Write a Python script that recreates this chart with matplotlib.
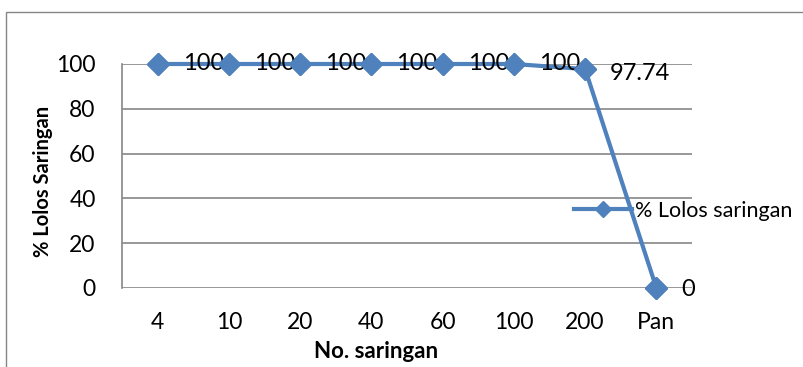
import matplotlib
matplotlib.use("Agg")
import matplotlib.pyplot as plt
from matplotlib.patches import Rectangle

plt.rcParams['font.family'] = ['Lato', 'DejaVu Sans']

categories = ["4", "10", "20", "40", "60", "100", "200", "Pan"]
values = [100, 100, 100, 100, 100, 100, 97.74, 0]
labels = ["100", "100", "100", "100", "100", "100", "97.74", "0"]
yticks = [0, 20, 40, 60, 80, 100]

W, H = 804, 367
fig = plt.figure(figsize=(W / 100, H / 100), dpi=100)
# plot area in pixels: left 122, right 692, top 64 (y=100), bottom 288 (y=0)
ax = fig.add_axes([122 / W, 1 - 288 / H, (692 - 122) / W, (288 - 64) / H])

color = "#4F81BD"
x = list(range(len(categories)))
ax.plot(x, values, color=color, lw=3, marker="D", markersize=11,
        label="% Lolos saringan", zorder=3, clip_on=False)
# markers drawn again above the data labels
ax.plot(x, values, color=color, lw=0, marker="D", markersize=11,
        zorder=5, clip_on=False)

ax.set_xlim(-0.5, len(categories) - 0.5)
ax.set_ylim(0, 100)
ax.set_yticks(yticks)
ax.set_xticks(x)
ax.set_xticklabels(categories)
ax.tick_params(axis="both", length=0, labelsize=16.5)
ax.tick_params(axis="x", pad=17)
ax.tick_params(axis="y", pad=19)
ax.grid(axis="y", color="#868686", lw=1.2)
ax.set_axisbelow(True)
for s in ["top", "right", "bottom"]:
    ax.spines[s].set_visible(False)
ax.spines["left"].set_color("#868686")
ax.spines["left"].set_linewidth(1.2)

for i, (v, lab) in enumerate(zip(values, labels)):
    dy = -3 if i == 6 else (-1 if i == 7 else 0)
    dx = 18
    ax.annotate(lab, (i, v), xytext=(dx, dy), textcoords="offset points",
                fontsize=17, va="center", ha="left", zorder=4)

fig.text(376 / W, 1 - 351 / H, "No. saringan", fontsize=16, fontweight="bold",
         ha="center", va="center")
fig.text(43 / W, 1 - 181 / H, "% Lolos Saringan", fontsize=14.5, fontweight="bold",
         ha="center", va="center", rotation=90)

ax.legend(loc="center left", bbox_to_anchor=(574 / W, 1 - 211 / H),
          bbox_transform=fig.transFigure, frameon=False, fontsize=15.5,
          handlelength=2.7, handletextpad=0.15, borderaxespad=0, borderpad=0,
          markerscale=0.75)

fig.patches.append(Rectangle((6 / W, -0.1), 1.2, 1 - 12 / H + 0.1, transform=fig.transFigure,
                             fill=False, edgecolor="#868686", lw=1))

fig.savefig("out.png", dpi=100)
